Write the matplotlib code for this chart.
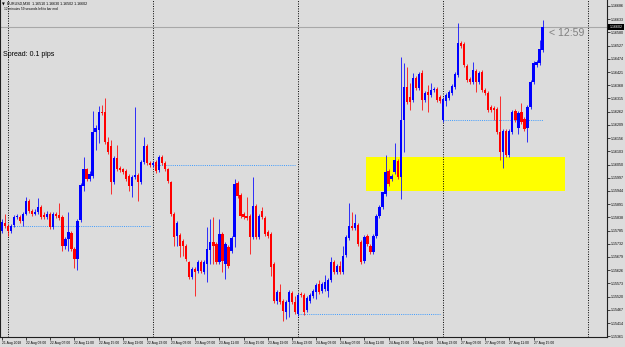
import numpy as np
import matplotlib
matplotlib.use("Agg")
import matplotlib.pyplot as plt
import matplotlib.transforms as mtransforms
from matplotlib.patches import Rectangle
from matplotlib.ticker import FormatStrFormatter

# EURUSD M30 candles, 21 Aug 22:00 -> 27 Aug 16:30 (weekend skipped)
opens = [1.15782, 1.15814, 1.15802, 1.15782, 1.15806, 1.15838, 1.15838, 1.15822, 1.15850, 1.15902,
         1.15862, 1.15850, 1.15858, 1.15878, 1.15846, 1.15838, 1.15850, 1.15798, 1.15850, 1.15846,
         1.15838, 1.15722, 1.15750, 1.15774, 1.15710, 1.15670, 1.15826, 1.15962, 1.16030, 1.15990,
         1.16002, 1.16182, 1.16190, 1.16262, 1.16262, 1.16142, 1.16126, 1.15978, 1.16078, 1.16038,
         1.16030, 1.16022, 1.16002, 1.15962, 1.15998, 1.16006, 1.15978, 1.16062, 1.16126, 1.16058,
         1.16050, 1.16062, 1.16026, 1.16082, 1.16058, 1.16030, 1.15978, 1.15850, 1.15762, 1.15766,
         1.15742, 1.15722, 1.15658, 1.15598, 1.15630, 1.15622, 1.15658, 1.15618, 1.15650, 1.15706,
         1.15738, 1.15730, 1.15658, 1.15770, 1.15650, 1.15718, 1.15702, 1.15758, 1.15974, 1.15926,
         1.15850, 1.15842, 1.15842, 1.15758, 1.15882, 1.15758, 1.15862, 1.15834, 1.15778, 1.15770,
         1.15650, 1.15502, 1.15538, 1.15502, 1.15458, 1.15498, 1.15534, 1.15498, 1.15450, 1.15530,
         1.15526, 1.15466, 1.15502, 1.15522, 1.15538, 1.15570, 1.15542, 1.15550, 1.15542, 1.15586,
         1.15658, 1.15618, 1.15642, 1.15618, 1.15686, 1.15754, 1.15802, 1.15794, 1.15806, 1.15738,
         1.15662, 1.15762, 1.15722, 1.15698, 1.15762, 1.15842, 1.15878, 1.15930, 1.16022, 1.15990,
         1.16018, 1.16066, 1.15998, 1.16230, 1.16362, 1.16322, 1.16310, 1.16398, 1.16358, 1.16418,
         1.16310, 1.16342, 1.16330, 1.16350, 1.16354, 1.16322, 1.16230, 1.16306, 1.16318, 1.16338,
         1.16362, 1.16410, 1.16538, 1.16534, 1.16446, 1.16394, 1.16382, 1.16426, 1.16382, 1.16422,
         1.16350, 1.16338, 1.16282, 1.16278, 1.16274, 1.16182, 1.16102, 1.16186, 1.16090, 1.16182,
         1.16266, 1.16198, 1.16262, 1.16234, 1.16198, 1.16282, 1.16382, 1.16450, 1.16458, 1.16510]
highs = [1.15830, 1.15850, 1.15810, 1.15810, 1.15846, 1.15850, 1.15846, 1.15858, 1.15918, 1.15910,
         1.15870, 1.15870, 1.15914, 1.15886, 1.15858, 1.15862, 1.15858, 1.15858, 1.15858, 1.15894,
         1.15846, 1.15758, 1.15858, 1.15782, 1.15718, 1.15830, 1.15974, 1.16082, 1.16038, 1.16022,
         1.16266, 1.16210, 1.16286, 1.16290, 1.16318, 1.16162, 1.16150, 1.16086, 1.16130, 1.16046,
         1.16038, 1.16030, 1.16010, 1.16006, 1.16282, 1.16014, 1.16070, 1.16162, 1.16134, 1.16066,
         1.16066, 1.16070, 1.16090, 1.16090, 1.16066, 1.16038, 1.15982, 1.15858, 1.15822, 1.15774,
         1.15750, 1.15730, 1.15662, 1.15638, 1.15638, 1.15666, 1.15666, 1.15666, 1.15798, 1.15830,
         1.15838, 1.15738, 1.15830, 1.15778, 1.15738, 1.15726, 1.15762, 1.15990, 1.15982, 1.15934,
         1.15858, 1.15918, 1.15850, 1.15998, 1.15890, 1.15850, 1.15878, 1.15842, 1.15786, 1.15778,
         1.15658, 1.15546, 1.15570, 1.15510, 1.15506, 1.15546, 1.15542, 1.15522, 1.15534, 1.15538,
         1.15534, 1.15522, 1.15534, 1.15550, 1.15574, 1.15586, 1.15578, 1.15606, 1.15594, 1.15678,
         1.15666, 1.15650, 1.15662, 1.15722, 1.15766, 1.15894, 1.15858, 1.15850, 1.15814, 1.15746,
         1.15766, 1.15770, 1.15730, 1.15770, 1.15850, 1.15886, 1.15938, 1.16090, 1.16030, 1.16010,
         1.16138, 1.16074, 1.16482, 1.16458, 1.16442, 1.16378, 1.16418, 1.16406, 1.16422, 1.16430,
         1.16346, 1.16370, 1.16378, 1.16362, 1.16362, 1.16330, 1.16322, 1.16338, 1.16350, 1.16374,
         1.16422, 1.16618, 1.16546, 1.16542, 1.16454, 1.16402, 1.16462, 1.16434, 1.16426, 1.16430,
         1.16358, 1.16346, 1.16290, 1.16286, 1.16282, 1.16326, 1.16194, 1.16194, 1.16194, 1.16270,
         1.16274, 1.16266, 1.16298, 1.16242, 1.16290, 1.16390, 1.16466, 1.16470, 1.16550, 1.16630]
lows = [1.15774, 1.15794, 1.15762, 1.15774, 1.15798, 1.15830, 1.15814, 1.15802, 1.15846, 1.15854,
        1.15842, 1.15846, 1.15850, 1.15830, 1.15830, 1.15830, 1.15790, 1.15790, 1.15834, 1.15826,
        1.15702, 1.15710, 1.15702, 1.15702, 1.15634, 1.15626, 1.15818, 1.15942, 1.15982, 1.15982,
        1.15994, 1.16110, 1.16138, 1.16250, 1.16134, 1.16094, 1.15930, 1.15970, 1.16022, 1.16018,
        1.16010, 1.15982, 1.15942, 1.15918, 1.15990, 1.15902, 1.15970, 1.16054, 1.16050, 1.16042,
        1.16042, 1.16014, 1.16018, 1.16050, 1.16022, 1.15974, 1.15842, 1.15722, 1.15722, 1.15678,
        1.15682, 1.15662, 1.15590, 1.15590, 1.15522, 1.15614, 1.15614, 1.15610, 1.15578, 1.15650,
        1.15650, 1.15650, 1.15650, 1.15618, 1.15590, 1.15634, 1.15694, 1.15718, 1.15914, 1.15834,
        1.15830, 1.15826, 1.15690, 1.15750, 1.15750, 1.15750, 1.15830, 1.15762, 1.15754, 1.15602,
        1.15494, 1.15490, 1.15490, 1.15422, 1.15430, 1.15438, 1.15490, 1.15450, 1.15442, 1.15518,
        1.15446, 1.15458, 1.15494, 1.15514, 1.15510, 1.15530, 1.15534, 1.15542, 1.15518, 1.15578,
        1.15610, 1.15610, 1.15610, 1.15610, 1.15678, 1.15746, 1.15786, 1.15786, 1.15722, 1.15650,
        1.15654, 1.15722, 1.15690, 1.15690, 1.15754, 1.15834, 1.15870, 1.15922, 1.15962, 1.15982,
        1.16010, 1.15990, 1.15910, 1.16102, 1.16294, 1.16270, 1.16302, 1.16350, 1.16350, 1.16270,
        1.16302, 1.16262, 1.16322, 1.16342, 1.16302, 1.16298, 1.16222, 1.16286, 1.16310, 1.16330,
        1.16354, 1.16402, 1.16518, 1.16442, 1.16382, 1.16374, 1.16374, 1.16342, 1.16374, 1.16342,
        1.16330, 1.16262, 1.16262, 1.16230, 1.16174, 1.16070, 1.16038, 1.16082, 1.16082, 1.16174,
        1.16222, 1.16174, 1.16214, 1.16186, 1.16142, 1.16274, 1.16374, 1.16442, 1.16450, 1.16502]
closes = [1.15818, 1.15802, 1.15782, 1.15802, 1.15838, 1.15842, 1.15822, 1.15850, 1.15902, 1.15862,
          1.15850, 1.15858, 1.15878, 1.15838, 1.15838, 1.15850, 1.15798, 1.15850, 1.15842, 1.15834,
          1.15722, 1.15750, 1.15778, 1.15710, 1.15670, 1.15822, 1.15966, 1.16030, 1.15990, 1.16010,
          1.16182, 1.16198, 1.16262, 1.16258, 1.16142, 1.16102, 1.15978, 1.16078, 1.16030, 1.16026,
          1.16018, 1.15990, 1.15962, 1.15998, 1.16006, 1.15978, 1.16062, 1.16126, 1.16058, 1.16050,
          1.16058, 1.16022, 1.16082, 1.16058, 1.16030, 1.15982, 1.15850, 1.15758, 1.15814, 1.15722,
          1.15722, 1.15670, 1.15598, 1.15630, 1.15618, 1.15658, 1.15622, 1.15658, 1.15710, 1.15738,
          1.15722, 1.15658, 1.15770, 1.15662, 1.15730, 1.15642, 1.15754, 1.15970, 1.15922, 1.15842,
          1.15838, 1.15834, 1.15758, 1.15882, 1.15758, 1.15842, 1.15838, 1.15770, 1.15762, 1.15638,
          1.15502, 1.15538, 1.15498, 1.15462, 1.15498, 1.15538, 1.15498, 1.15458, 1.15526, 1.15526,
          1.15458, 1.15514, 1.15526, 1.15542, 1.15566, 1.15538, 1.15570, 1.15578, 1.15586, 1.15658,
          1.15618, 1.15642, 1.15618, 1.15682, 1.15758, 1.15802, 1.15794, 1.15814, 1.15730, 1.15658,
          1.15758, 1.15730, 1.15698, 1.15762, 1.15842, 1.15878, 1.15938, 1.16018, 1.15970, 1.16002,
          1.16070, 1.15998, 1.16230, 1.16362, 1.16302, 1.16302, 1.16398, 1.16358, 1.16414, 1.16310,
          1.16338, 1.16330, 1.16350, 1.16354, 1.16310, 1.16306, 1.16314, 1.16330, 1.16342, 1.16366,
          1.16414, 1.16538, 1.16526, 1.16450, 1.16390, 1.16382, 1.16430, 1.16382, 1.16418, 1.16350,
          1.16338, 1.16270, 1.16270, 1.16270, 1.16182, 1.16102, 1.16186, 1.16090, 1.16186, 1.16262,
          1.16230, 1.16258, 1.16222, 1.16194, 1.16282, 1.16382, 1.16458, 1.16462, 1.16514, 1.16602]

# candle index of each day's first bar (day separators) and its end
day_start = [2, 50, 98, 146]
day_end = [49, 97, 145, 179]
separators = [2, 50, 98, 146, 194]

# support/demand zone drawn on the chart
zone_start, zone_end = 120.5, 186.4
zone_top, zone_bottom = 1.16082, 1.15942

time_ticks = [0, 8, 16, 24, 32, 40, 48, 56, 64, 72, 80, 88, 96, 104, 112, 120,
              128, 136, 144, 152, 160, 168, 176]
time_labels = ["21 Aug 2018", "22 Aug 03:00", "22 Aug 07:00", "22 Aug 11:00", "22 Aug 15:00",
               "22 Aug 19:00", "22 Aug 23:00", "23 Aug 03:00", "23 Aug 07:00", "23 Aug 11:00",
               "23 Aug 15:00", "23 Aug 19:00", "23 Aug 23:00", "24 Aug 03:00", "24 Aug 07:00",
               "24 Aug 11:00", "24 Aug 15:00", "24 Aug 19:00", "24 Aug 23:00", "27 Aug 03:00",
               "27 Aug 07:00", "27 Aug 11:00", "27 Aug 15:00"]
price_ticks = [1.16686, 1.16633, 1.16580, 1.16527, 1.16474, 1.16421, 1.16368, 1.16315,
               1.16262, 1.16209, 1.16156, 1.16103, 1.16050, 1.15997, 1.15944, 1.15891,
               1.15838, 1.15785, 1.15732, 1.15679, 1.15626, 1.15573, 1.15520, 1.15467,
               1.15414, 1.15361]

bg = "#dcdcdc"
up_col = "#0000ff"
dn_col = "#ff0000"

o = np.array(opens)
c = np.array(closes)
h = np.maximum(np.array(highs), np.maximum(o, c))
l = np.minimum(np.array(lows), np.minimum(o, c))
x = np.arange(len(o))
cols = np.where(c >= o, up_col, dn_col)

fig = plt.figure(figsize=(6.25, 3.47), dpi=100, facecolor=bg)
ax = fig.add_axes([0, 1 - 337 / 347, 607 / 625, 337 / 347])
ax.set_facecolor(bg)
ax.set_xlim(-0.66, 200.33)
ax.set_ylim(1.15358, 1.16710)

# yellow zone in the background
ax.add_patch(Rectangle((zone_start, zone_bottom), zone_end - zone_start, zone_top - zone_bottom,
                       facecolor="#ffff00", edgecolor="none", zorder=0.5))

# day separators
for s in separators:
    ax.axvline(s, color="black", lw=0.7, ls=(0, (1, 1.5)), zorder=1)

# daily open lines
for s, e in zip(day_start, day_end):
    ax.hlines(opens[s], s, e, color="#3d9bff", lw=0.7, ls=(0, (1, 1.2)), zorder=1)

# bid line
ax.axhline(closes[-1], color="#a8a8a8", lw=0.8, zorder=1)

# candles
ax.vlines(x, l, h, colors=cols, lw=0.7, alpha=0.8, zorder=2)
body = np.maximum(np.abs(c - o), 0.00002)
ax.bar(x, body, bottom=np.minimum(o, c), width=0.74, color=cols, linewidth=0, zorder=3)

# axes cosmetics
for side in ["left", "bottom", "right"]:
    ax.spines[side].set_color("#202020")
    ax.spines[side].set_linewidth(0.8)
ax.spines["top"].set_visible(False)

ax.yaxis.tick_right()
ax.set_yticks(price_ticks)
ax.yaxis.set_major_formatter(FormatStrFormatter("%.5f"))
ax.tick_params(axis="y", labelsize=2.6, length=2, width=0.5, pad=1, colors="black")
ax.set_xticks(time_ticks)
ax.set_xticklabels(time_labels)
for t in ax.get_xticklabels():
    t.set_ha("left")
ax.tick_params(axis="x", labelsize=2.4, length=2, width=0.5, pad=1, colors="black")
for t in ax.get_xticklabels() + ax.get_yticklabels():
    t.set_fontfamily("Liberation Sans")

# current price label on the scale
trans = mtransforms.blended_transform_factory(ax.transAxes, ax.transData)
ax.text(1.004, closes[-1], f"{closes[-1]:.5f}", transform=trans, fontsize=2.6, color="white",
        va="center", ha="left", family="Liberation Sans",
        bbox=dict(facecolor="black", edgecolor="none", pad=0.8))

# header texts
fig.text(2 / 625, 1 - 4 / 347, "\u25bc", fontsize=2.6, va="center", family="DejaVu Sans")
fig.text(7 / 625, 1 - 4 / 347, "EURUSD,M30  1.16510 1.16630 1.16502 1.16602",
         fontsize=2.6, va="center", family="Liberation Sans")
fig.text(4 / 625, 1 - 9.5 / 347, "12 minutes 59 seconds left to bar end",
         fontsize=2.3, va="center", family="Liberation Sans")
fig.text(3 / 625, 1 - 55 / 347, "Spread: 0.1 pips", fontsize=5, va="center",
         family="Liberation Sans", color="black")
fig.text(549 / 625, 1 - 33 / 347, "< 12:59", fontsize=7.6, va="center",
         family="Liberation Sans", color="#808080")

fig.savefig("out.png", dpi=100, facecolor=bg)
